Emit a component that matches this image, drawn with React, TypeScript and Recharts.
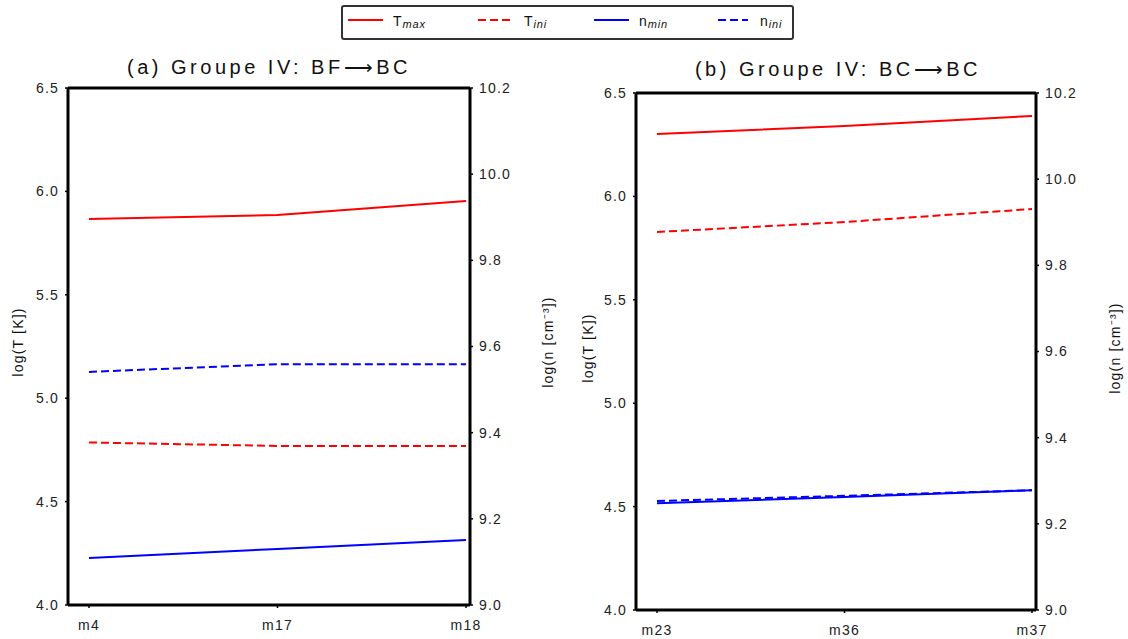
import React from 'react';
import { LineChart, Line, XAxis, YAxis, ReferenceLine } from 'recharts';

const catsA = ['m4', 'm17', 'm18'];
const tMaxA = [5.867, 5.886, 5.954];
const tIniA = [4.786, 4.769, 4.769];
const nMinA = [9.109, 9.13, 9.151];
const nIniA = [9.541, 9.559, 9.559];

const catsB = ['m23', 'm36', 'm37'];
const tMaxB = [6.302, 6.34, 6.389];
const tIniB = [5.828, 5.876, 5.939];
const nMinB = [9.248, 9.262, 9.278];
const nIniB = [9.253, 9.265, 9.278];

const leftTicks = [4.0, 4.5, 5.0, 5.5, 6.0, 6.5];
const rightTicks = [9.0, 9.2, 9.4, 9.6, 9.8, 10.0, 10.2];

const FONT = '"Liberation Sans", Arial, sans-serif';

type PanelProps = {
  cats: string[];
  tmax: number[];
  tini: number[];
  nmin: number[];
  nini: number[];
  width: number;
  margin: { top: number; right: number; bottom: number; left: number };
  xHeight: number;
};

function Panel({ cats, tmax, tini, nmin, nini, width, margin, xHeight }: PanelProps) {
  const data = cats.map((c, i) => ({ cat: c, tmax: tmax[i], tini: tini[i], nmin: nmin[i], nini: nini[i] }));
  const tickStyle = { fill: '#222', fontSize: 14, fontFamily: FONT, letterSpacing: 1.2 };
  const axisLine = { stroke: '#000', strokeWidth: 3 };
  return (
    <LineChart width={width} height={639} data={data} margin={margin}>
      <XAxis
        dataKey="cat"
        padding={{ left: 21, right: 4 }}
        height={xHeight}
        axisLine={axisLine}
        tickLine={{ stroke: '#000', strokeWidth: 1.5 }}
        tickSize={3}
        tickMargin={12}
        tick={tickStyle}
      />
      <YAxis
        yAxisId="left"
        domain={[4, 6.5]}
        ticks={leftTicks}
        width={40}
        tickFormatter={(v: number) => v.toFixed(1)}
        axisLine={axisLine}
        tickLine={{ stroke: '#000', strokeWidth: 1.5 }}
        tickSize={3}
        tickMargin={6}
        tick={tickStyle}
        allowDataOverflow
      />
      <YAxis
        yAxisId="right"
        orientation="right"
        domain={[9, 10.2]}
        ticks={rightTicks}
        width={40}
        tickFormatter={(v: number) => v.toFixed(1)}
        axisLine={axisLine}
        tickLine={{ stroke: '#000', strokeWidth: 1.5 }}
        tickSize={3}
        tickMargin={6}
        tick={tickStyle}
        allowDataOverflow
      />
      <ReferenceLine yAxisId="left" y={6.5} stroke="#000" strokeWidth={3} />
      <Line yAxisId="left" dataKey="tmax" stroke="#ff0000" strokeWidth={2} dot={false} isAnimationActive={false} />
      <Line yAxisId="left" dataKey="tini" stroke="#ff0000" strokeWidth={2} strokeDasharray="8 4" dot={false} isAnimationActive={false} />
      <Line yAxisId="right" dataKey="nmin" stroke="#0000ff" strokeWidth={2} dot={false} isAnimationActive={false} />
      <Line yAxisId="right" dataKey="nini" stroke="#0000ff" strokeWidth={2} strokeDasharray="8 4" dot={false} isAnimationActive={false} />
    </LineChart>
  );
}

const legendItems = [
  { color: '#ff0000', dash: undefined as string | undefined, main: 'T', sub: 'max', lx: 5, lw: 35, tx: 50 },
  { color: '#ff0000', dash: '8 4', main: 'T', sub: 'ini', lx: 135, lw: 33, tx: 181 },
  { color: '#0000ff', dash: undefined, main: 'n', sub: 'min', lx: 251, lw: 35, tx: 296 },
  { color: '#0000ff', dash: '8 4', main: 'n', sub: 'ini', lx: 375, lw: 30, tx: 417 },
];

const titleA = '(a) Groupe IV: BF\u27F6BC';
const titleB = '(b) Groupe IV: BC\u27F6BC';
const labelT = 'log(T [K])';
const labelN = 'log(n [cm\u207B\u00B3])';

export default function App() {
  const axisLabel = { fontSize: 14, fill: '#111', fontFamily: FONT, letterSpacing: 1.2, textAnchor: 'middle' as const };
  const title = { fontSize: 20, fill: '#111', fontFamily: FONT, letterSpacing: 3.5, textAnchor: 'middle' as const };
  return (
    <div style={{ position: 'absolute', left: 0, top: 0, width: 1128, height: 639, background: '#fff', fontFamily: FONT }}>
      <div style={{ position: 'absolute', left: 0, top: 0 }}>
        <Panel
          cats={catsA}
          tmax={tMaxA}
          tini={tIniA}
          nmin={nMinA}
          nini={nIniA}
          width={560}
          margin={{ top: 88, right: 50, bottom: 4, left: 28 }}
          xHeight={30}
        />
      </div>
      <div style={{ position: 'absolute', left: 560, top: 0 }}>
        <Panel
          cats={catsB}
          tmax={tMaxB}
          tini={tIniB}
          nmin={nMinB}
          nini={nIniB}
          width={568}
          margin={{ top: 93, right: 52, bottom: 0, left: 36 }}
          xHeight={29}
        />
      </div>
      <svg width={1128} height={639} style={{ position: 'absolute', left: 0, top: 0, pointerEvents: 'none' }}>
        <text x={269} y={74} {...title}>{titleA}</text>
        <text x={838} y={76} {...title}>{titleB}</text>
        <text transform="translate(23,342) rotate(-90)" {...axisLabel}>{labelT}</text>
        <text transform="translate(553,342) rotate(-90)" {...axisLabel}>{labelN}</text>
        <text transform="translate(593,348) rotate(-90)" {...axisLabel}>{labelT}</text>
        <text transform="translate(1120,348) rotate(-90)" {...axisLabel}>{labelN}</text>
      </svg>
      <div
        style={{
          position: 'absolute',
          left: 341,
          top: 5,
          width: 449,
          height: 31,
          border: '2px solid #333',
          borderRadius: 3,
          background: '#fff',
        }}
      >
        <svg width={449} height={31} style={{ position: 'absolute', left: 0, top: 0 }}>
          {legendItems.map((it, i) => (
            <g key={i}>
              <line x1={it.lx} x2={it.lx + it.lw} y1={13} y2={13} stroke={it.color} strokeWidth={2} strokeDasharray={it.dash} />
              <text x={it.tx} y={19} fontSize={14} fill="#111" fontFamily={FONT}>
                {it.main}
                <tspan fontSize={11} fontStyle="italic" dx={1} dy={2} letterSpacing={0.8}>
                  {it.sub}
                </tspan>
              </text>
            </g>
          ))}
        </svg>
      </div>
    </div>
  );
}
